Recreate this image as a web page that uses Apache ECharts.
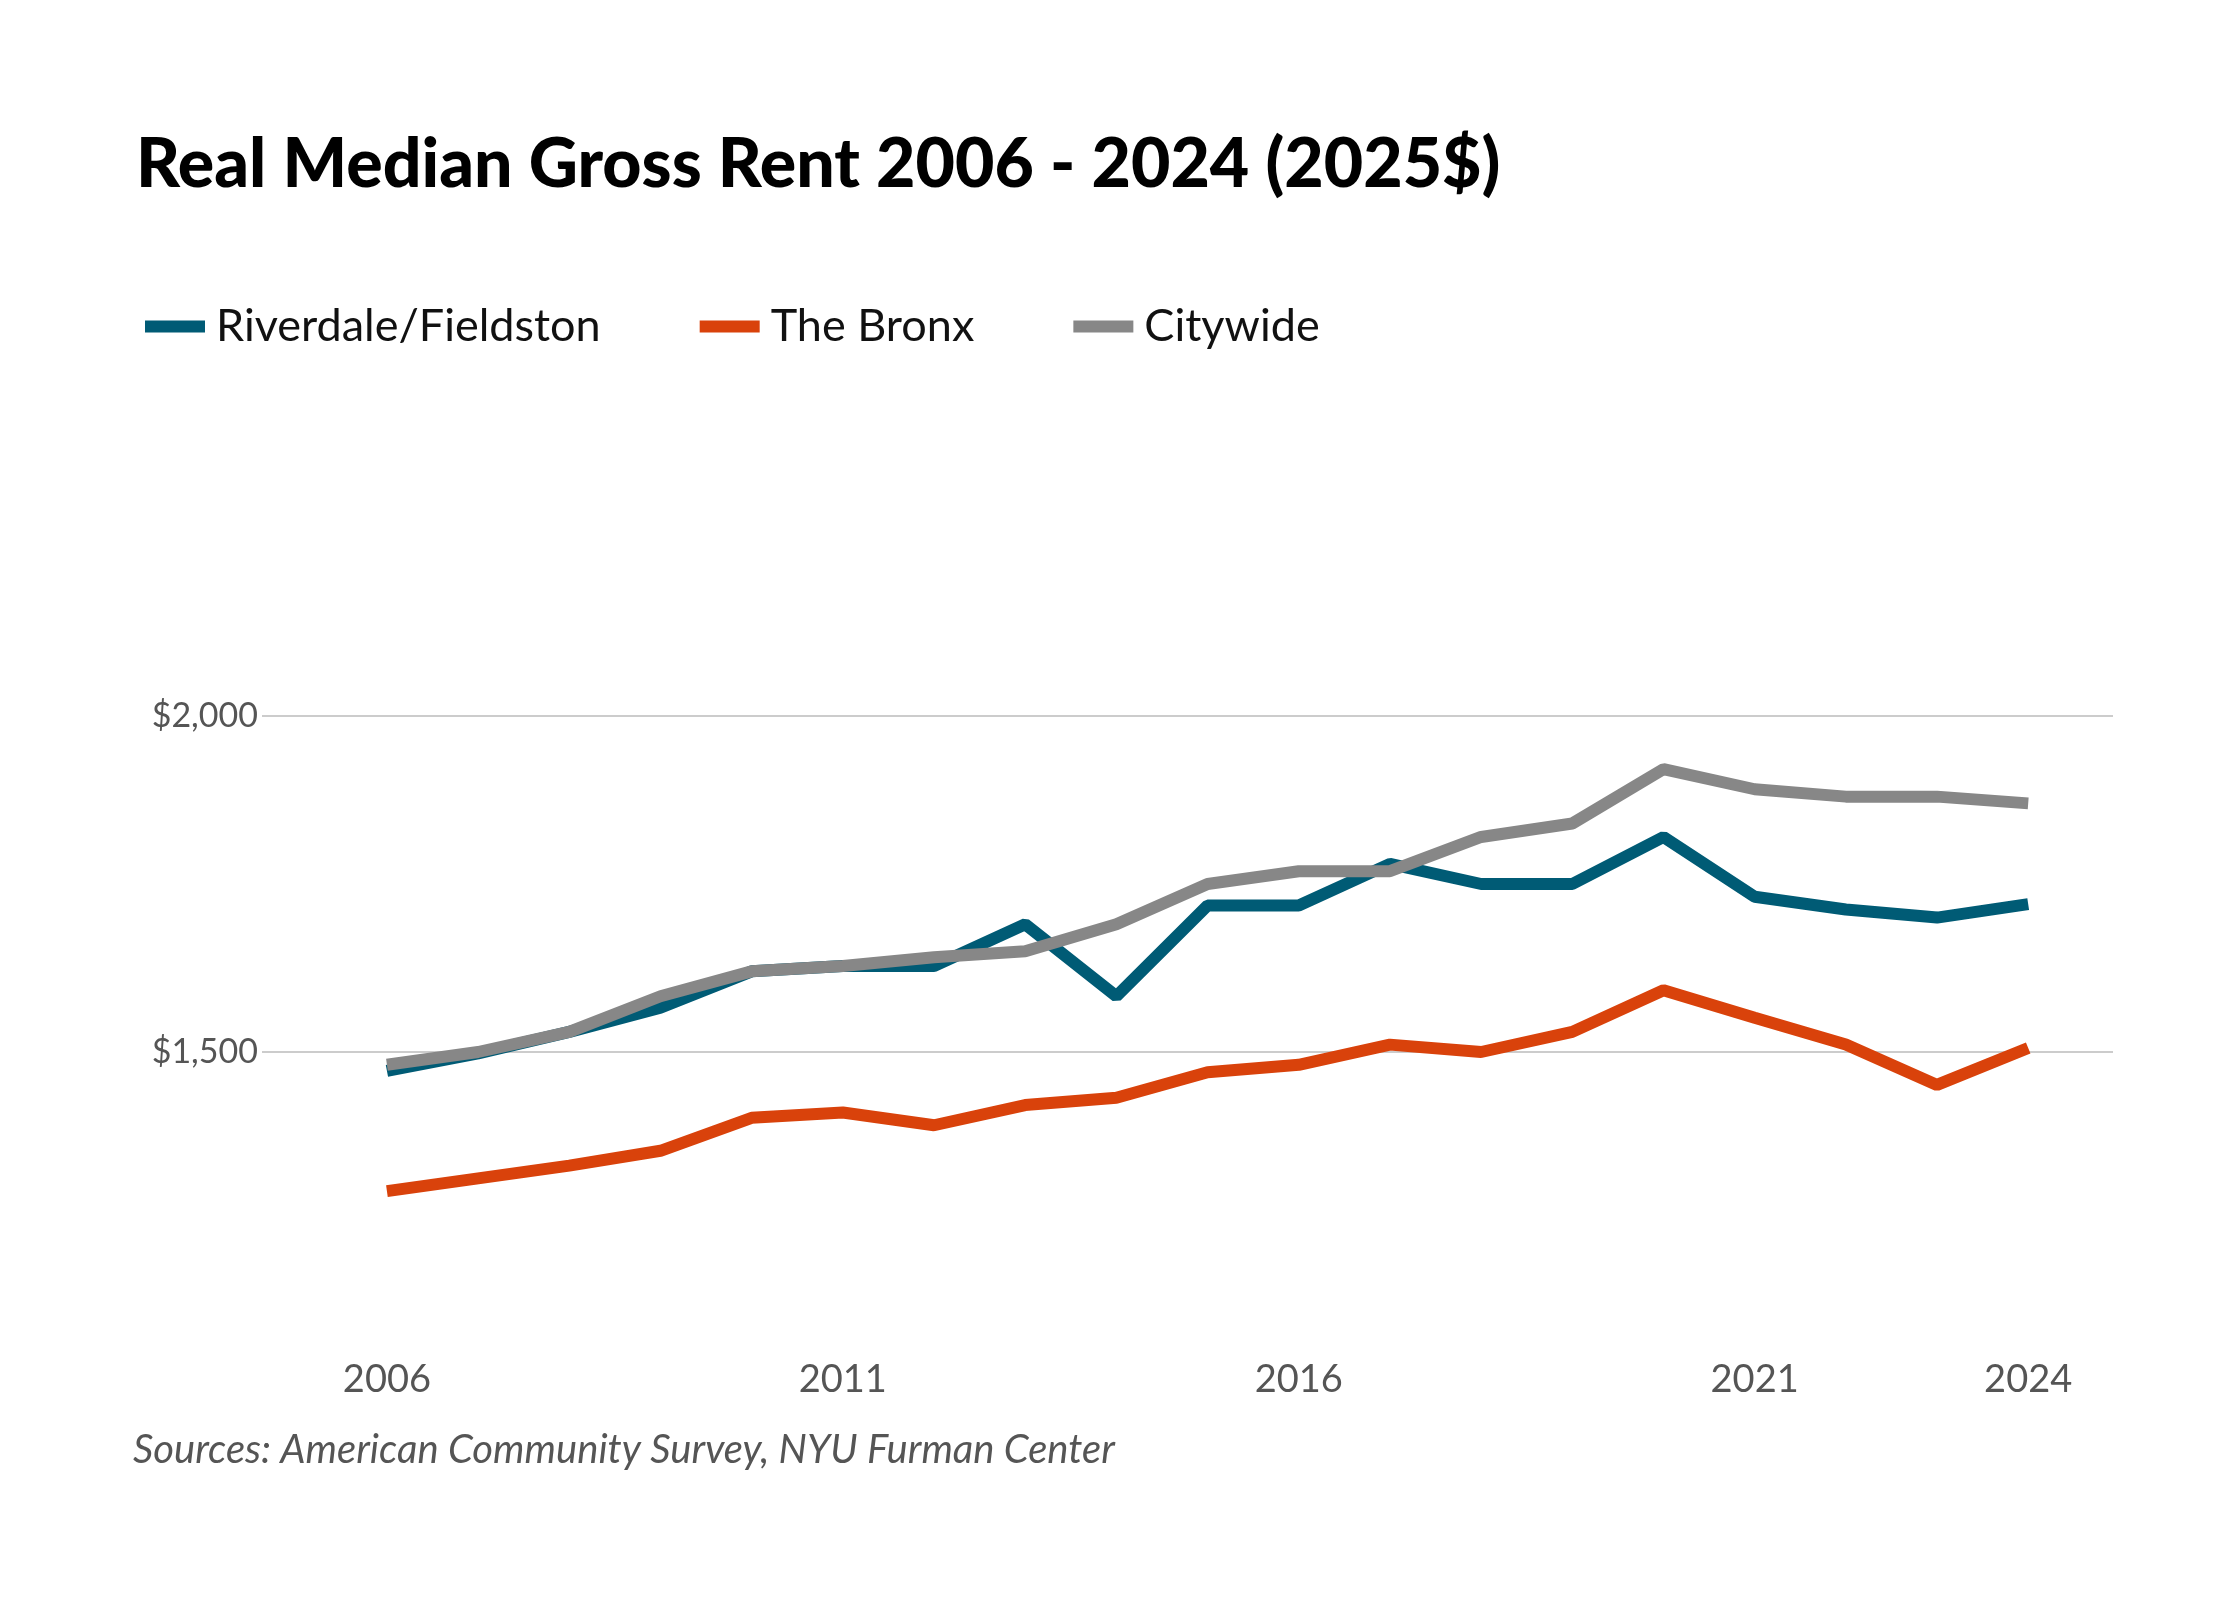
<!DOCTYPE html>
<html>
<head>
<meta charset="utf-8">
<script src="https://cdn.jsdelivr.net/npm/echarts@6/dist/echarts.min.js"></script>
<style>
  html, body { margin: 0; padding: 0; background: #fff; }
  #chart { width: 2240px; height: 1600px; }
</style>
</head>
<body>
<div id="chart"></div>
<script>
var years = [2006, 2007, 2008, 2009, 2010, 2011, 2012, 2013, 2014, 2015, 2016, 2017, 2018, 2019, 2020, 2021, 2022, 2023, 2024]
var riverdale = [1472, 1498, 1530, 1566, 1620, 1628, 1628, 1690, 1583, 1718, 1718, 1780, 1750, 1750, 1820, 1731, 1712, 1700, 1720]
var bronx = [1293, 1312, 1331, 1353, 1402, 1410, 1391, 1421, 1432, 1470, 1481, 1511, 1500, 1530, 1592, 1551, 1511, 1451, 1506]
var citywide = [1481, 1500, 1530, 1583, 1620, 1628, 1641, 1650, 1690, 1750, 1769, 1769, 1820, 1840, 1921, 1891, 1880, 1880, 1870]
var yearLabels = [2006, 2011, 2016, 2021, 2024]
var names = ['Riverdale/Fieldston', 'The Bronx', 'Citywide']
var colors = ['#005b75', '#d9420b', '#878787']

function pairs(arr) {
    return years.map(function (y, i) { return [y, arr[i]] })
}

var font = 'Lato, "Noto Sans", sans-serif'
var chart = echarts.init(document.getElementById('chart'))
var option = {
    backgroundColor: '#fff',
    title: {
        text: 'Real Median Gross Rent 2006 - 2024 (2025$)',
        left: 131, top: 126,
        textStyle: { fontFamily: font, fontWeight: 900, fontSize: 68, color: '#000' }
    },
    legend: {
        data: names,
        left: 140, top: 299,
        itemWidth: 60, itemHeight: 12, itemGap: 99,
        icon: 'rect',
        textStyle: { fontFamily: font, fontSize: 45, color: '#111', padding: [0, 0, 0, 6] }
    },
    graphic: [{
        type: 'text', left: 133, top: 1430,
        style: { text: 'Sources: American Community Survey, NYU Furman Center', font: 'italic 40px Lato, sans-serif', fill: '#555' }
    }],
    grid: { left: 262, right: 127, top: 380, bottom: 212 },
    xAxis: {
        type: 'value', min: 2004.63, max: 2024.93,
        axisLine: { show: false }, axisTick: { show: false }, splitLine: { show: false },
        axisLabel: {
            customValues: yearLabels, margin: -27,
            fontFamily: font, fontSize: 38, color: '#555', formatter: function (v) { return String(v) }
        }
    },
    yAxis: {
        type: 'value', min: 1000, max: 2500, interval: 500,
        axisLine: { show: false }, axisTick: { show: false },
        splitLine: { lineStyle: { color: ['transparent', '#cccccc', '#cccccc', 'transparent'], width: 2 } },
        axisLabel: {
            showMinLabel: false, showMaxLabel: false, margin: 4,
            fontFamily: font, fontSize: 34, color: '#555',
            formatter: function (v) { return '$' + v.toLocaleString('en-US') }
        }
    },
    series: [riverdale, bronx, citywide].map(function (d, i) {
        return {
            name: names[i], type: 'line', data: pairs(d),
            symbol: 'none', color: colors[i],
            lineStyle: { width: 12, color: colors[i] },
            z: i == 2 ? 3 : 2
        }
    })
}
chart.setOption(option)
</script>
</body>
</html>
